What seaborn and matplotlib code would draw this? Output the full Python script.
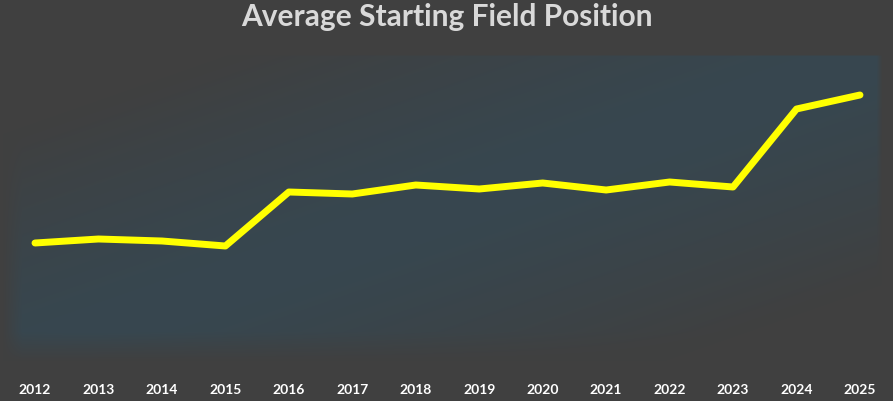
import numpy as np
import pandas as pd
import matplotlib
matplotlib.use("Agg")
import matplotlib.pyplot as plt
import seaborn as sns

years = [2012, 2013, 2014, 2015, 2016, 2017, 2018, 2019, 2020, 2021, 2022, 2023, 2024, 2025]
avg_start = [15.6, 16.0, 15.8, 15.3, 20.7, 20.5, 21.4, 21.0, 21.6, 20.9, 21.7, 21.2, 29.0, 30.4]
title = "Average Starting Field Position"

df = pd.DataFrame({"year": years, "value": avg_start})

sns.set_theme(style="white")
plt.rcParams["font.family"] = ["Lato", "DejaVu Sans"]

W, H = 893, 402
fig = plt.figure(figsize=(W / 100, H / 100), dpi=100)
fig.patch.set_facecolor("#404040")

# background: plot-area diagonal gradient (gray - blue-gray - gray)
bg = fig.add_axes([0, 0, 1, 1], zorder=0)
bg.set_axis_off()
yy, xx = np.mgrid[0:H, 0:W].astype(float)
x0, x1, y0, y1 = 8, 882, 56, 362
u = (xx - x0) / (x1 - x0)
v = (yy - y0) / (y1 - y0)
s = np.abs(u + v - 1.0)
w = 1 - np.clip(s / 0.75, 0, 1) ** 1.3
# soft fades at left and bottom, sharper at top/right
w *= np.clip((xx - 2) / 20.0, 0, 1)
w *= np.clip((y1 - yy) / 30.0, 0, 1)
w *= np.clip((yy - y0 + 1) / 2.0, 0, 1)
w *= np.clip((x1 - xx) / 6.0, 0, 1)
inner = np.array([0x37, 0x47, 0x50]) / 255.0
outer = np.array([0x40, 0x40, 0x40]) / 255.0
img = inner[None, None, :] * w[..., None] + outer[None, None, :] * (1 - w[..., None])
bg.imshow(img, extent=[0, W, H, 0], aspect="auto", interpolation="bilinear")
bg.set_xlim(0, W)
bg.set_ylim(H, 0)

ax = fig.add_axes([0, 32 / H, 1, 370 / H], zorder=1)
ax.patch.set_alpha(0)
sns.lineplot(data=df, x="year", y="value", ax=ax, color="#ffff00", linewidth=5,
             solid_capstyle="round", solid_joinstyle="round")
ax.set_xlim(2012 - 35 / 63.46, 2012 + 858 / 63.46)
ax.set_ylim(3, 40)
ax.set_xticks(years)
ax.set_xticklabels([str(y) for y in years], color="white", fontsize=10, fontweight="bold")
ax.tick_params(axis="x", length=0, pad=10)
ax.set_yticks([])
ax.set_xlabel("")
ax.set_ylabel("")
for sp in ax.spines.values():
    sp.set_visible(False)

fig.text(0.5, 1 - 17 / H, title, ha="center", va="center", color="#d9d9d9",
         fontsize=21.5, fontweight="bold")

fig.savefig("out.png", dpi=100, facecolor=fig.get_facecolor())
